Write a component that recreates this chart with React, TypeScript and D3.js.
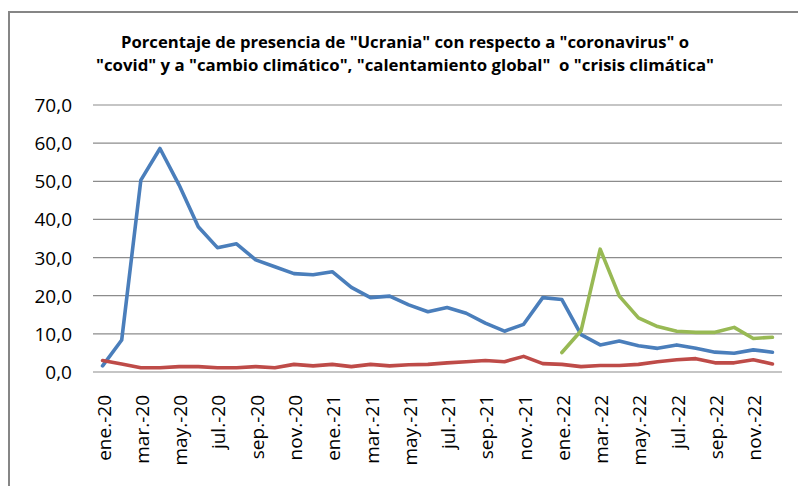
import React from "react";
import * as d3 from "d3";

const months = ["ene", "feb", "mar", "abr", "may", "jun", "jul", "ago", "sep", "oct", "nov", "dic"];
const years = ["20", "21", "22"];
const categories: string[] = years.flatMap((y) => months.map((m) => `${m}.-${y}`));

const coronavirus: (number | null)[] = [
  1.6, 8.4, 50.3, 58.6, 49.0, 38.1, 32.6, 33.6, 29.4, 27.6, 25.8, 25.5,
  26.3, 22.2, 19.5, 19.9, 17.6, 15.8, 16.9, 15.4, 12.8, 10.7, 12.5, 19.5,
  19.0, 9.8, 7.1, 8.1, 6.9, 6.2, 7.1, 6.2, 5.2, 4.9, 5.8, 5.2,
];
const clima: (number | null)[] = [
  3.0, 2.1, 1.1, 1.1, 1.4, 1.4, 1.1, 1.1, 1.4, 1.1, 2.0, 1.6,
  2.0, 1.4, 2.0, 1.6, 1.9, 2.0, 2.4, 2.7, 3.0, 2.7, 4.1, 2.2,
  2.0, 1.4, 1.7, 1.7, 2.0, 2.7, 3.2, 3.5, 2.4, 2.4, 3.2, 2.1,
];
const ucrania: (number | null)[] = [
  null, null, null, null, null, null, null, null, null, null, null, null,
  null, null, null, null, null, null, null, null, null, null, null, null,
  5.1, 10.8, 32.2, 19.9, 14.2, 11.9, 10.7, 10.4, 10.4, 11.7, 8.8, 9.1,
];
const yTicks = [0, 10, 20, 30, 40, 50, 60, 70];
const titleLines = [
  'Porcentaje de presencia de "Ucrania" con respecto a "coronavirus" o',
  '"covid" y a "cambio climático", "calentamiento global"  o "crisis climática"',
];

const W = 798;
const H = 486;
const plot = { left: 93, right: 782, top: 105, bottom: 372 };
const font = "'Open Sans', 'Liberation Sans', sans-serif";

export default function App() {
  const x = d3.scaleBand<string>().domain(categories).range([plot.left, plot.right]).padding(0);
  const y = d3.scaleLinear().domain([0, 70]).range([plot.bottom, plot.top]);
  const cx = (c: string) => (x(c) as number) + x.bandwidth() / 2;

  const line = d3
    .line<number | null>()
    .defined((d) => d !== null)
    .x((_, i) => cx(categories[i]))
    .y((d) => y(d as number));

  const series = [
    { data: coronavirus, color: "#4A7EBB" },
    { data: clima, color: "#BE4B48" },
    { data: ucrania, color: "#98B954" },
  ];

  const fmt = (v: number) => v.toFixed(1).replace(".", ",");

  return (
    <svg width={W} height={H} style={{ position: "absolute", left: 0, top: 0, background: "#fff" }}>
      <rect x={0} y={0} width={W} height={H} fill="#fff" />
      <rect x={9} y={12} width={W + 10} height={H + 10} fill="none" stroke="#868686" strokeWidth={2} />
      {titleLines.map((t, i) => (
        <text
          key={i}
          x={W / 2 + 6}
          y={48 + i * 23}
          textAnchor="middle"
          fontFamily={font}
          fontWeight="bold"
          fontSize={16}
          fill="#000"
          textLength={i === 0 ? 568 : 618}
          lengthAdjust="spacingAndGlyphs"
          style={{ whiteSpace: "pre" }}
        >
          {t}
        </text>
      ))}
      {yTicks.map((t) => (
        <g key={t}>
          <line x1={plot.left} x2={plot.right} y1={y(t)} y2={y(t)} stroke="#8C8C8C" strokeWidth={1.2} />
          <text x={72} y={y(t) + 7} textAnchor="end" fontFamily={font} fontSize={19} fill="#000">
            {fmt(t)}
          </text>
        </g>
      ))}
      {series.map((s, i) => (
        <path
          key={i}
          d={line(s.data) || ""}
          fill="none"
          stroke={s.color}
          strokeWidth={3.6}
          strokeLinejoin="round"
          strokeLinecap="round"
        />
      ))}
      {categories.map((c, i) =>
        i % 2 === 0 ? (
          <text
            key={c}
            transform={`translate(${cx(c) + 8},${395}) rotate(-90)`}
            textAnchor="end"
            fontFamily={font}
            fontSize={19}
            fill="#000"
          >
            {c}
          </text>
        ) : null
      )}
    </svg>
  );
}
